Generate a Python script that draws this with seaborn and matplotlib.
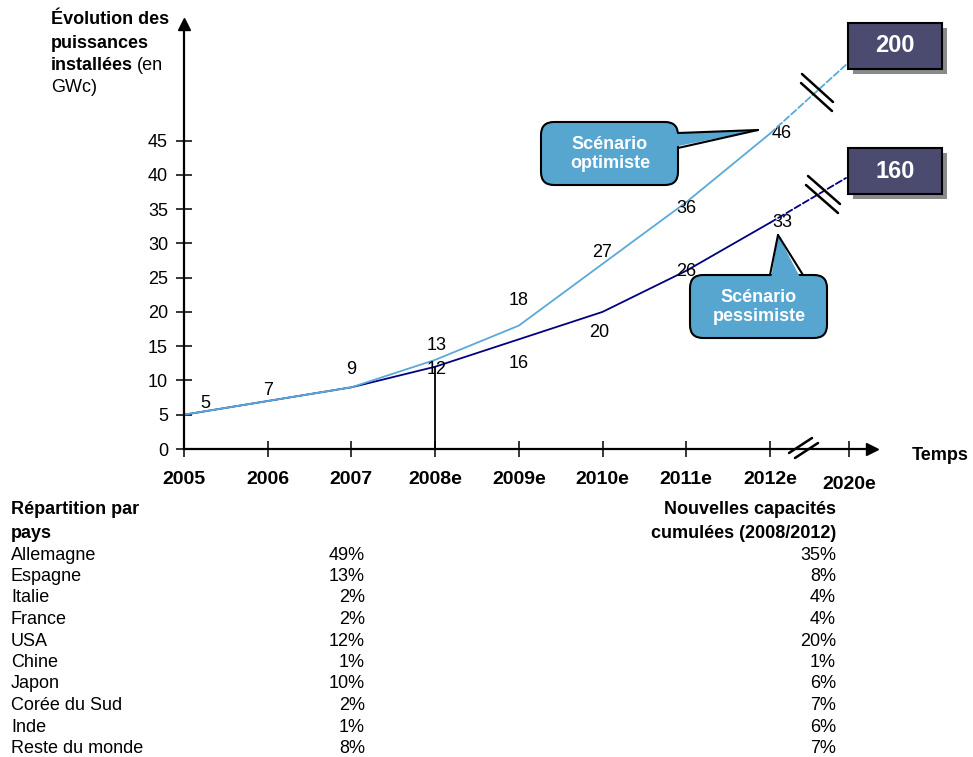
import matplotlib
matplotlib.use("Agg")
import matplotlib.pyplot as plt
import pandas as pd
import seaborn as sns
from matplotlib.transforms import Affine2D, ScaledTranslation
from matplotlib.patches import FancyBboxPatch, Polygon, Rectangle
from matplotlib.lines import Line2D

# ---- data -------------------------------------------------------------
annees = ["2005", "2006", "2007", "2008e", "2009e", "2010e", "2011e", "2012e", "2020e"]
optimiste = [5, 7, 9, 13, 18, 27, 36, 46]
pessimiste = [5, 7, 9, 12, 16, 20, 26, 33]
objectifs_2020 = [200, 160]          # optimiste, pessimiste
graduations_y = [0, 5, 10, 15, 20, 25, 30, 35, 40, 45]

pays = ["Allemagne", "Espagne", "Italie", "France", "USA", "Chine",
        "Japon", "Corée du Sud", "Inde", "Reste du monde"]
repartition = [49, 13, 2, 2, 12, 1, 10, 2, 1, 8]
nouvelles_capacites = [35, 8, 4, 4, 20, 1, 6, 7, 6, 7]

# ---- style ------------------------------------------------------------
W, H = 973, 757
BLEU_CLAIR = "#5AA9D8"
MARINE = "#000080"
BULLE = "#56A6D0"
CADRE = "#4B4B70"

sns.set_theme(style="white")
plt.rcParams["font.family"] = ["Liberation Sans", "DejaVu Sans"]
plt.rcParams["text.color"] = "black"
plt.rcParams["axes.labelcolor"] = "black"
plt.rcParams["xtick.color"] = "black"
plt.rcParams["ytick.color"] = "black"

fig = plt.figure(figsize=(W / 100, H / 100), dpi=100)
px = Affine2D().scale(1, -1).translate(0, H)   # pixel coords, origin top-left

# x axis: one unit per year up to 2012e, 2020e placed after the break
PAS = 83.7
X0 = 184
ax = fig.add_axes([X0 / W, 1 - 449 / H, (872 - X0) / W, (449 - 24) / H])

df = pd.DataFrame({
    "annee": list(range(len(optimiste))) * 2,
    "valeur": pessimiste + optimiste,
    "scenario": ["pessimiste"] * len(pessimiste) + ["optimiste"] * len(optimiste),
})
sns.lineplot(data=df, x="annee", y="valeur", hue="scenario",
             hue_order=["pessimiste", "optimiste"],
             palette={"optimiste": BLEU_CLAIR, "pessimiste": MARINE},
             linewidth=1.3, legend=False, ax=ax)

ax.set_xlim(0, (872 - X0) / PAS)
ax.set_ylim(0, 62)
ax.set_xticks(list(range(len(annees) - 1)) + [(849 - X0) / PAS])
ax.set_xticklabels(annees, fontsize=14, fontweight="bold")
ax.set_yticks(graduations_y)
ax.set_yticklabels([str(v) for v in graduations_y], fontsize=13)
ax.set_xlabel("")
ax.set_ylabel("")
for s in ("top", "right"):
    ax.spines[s].set_visible(False)
for s in ("left", "bottom"):
    ax.spines[s].set_color("black")
    ax.spines[s].set_linewidth(1.6)
ax.tick_params(axis="both", which="major", bottom=True, left=True,
               direction="inout", length=11, width=1.1, colors="black")
ax.tick_params(axis="x", pad=10)
ax.tick_params(axis="y", pad=6)
last = ax.get_xticklabels()[-1]
last.set_transform(last.get_transform() + ScaledTranslation(0, -5 / 100, fig.dpi_scale_trans))

# axis arrowheads
ax.plot(1, 0, ">", color="black", ms=9, transform=ax.transAxes, clip_on=False)
ax.plot(0, 1, "^", color="black", ms=9, transform=ax.transAxes, clip_on=False)

# 2008e marker line
ax.vlines(3, 0, pessimiste[3], color="black", lw=1.3)

# value labels (offsets in pixels, y downward)
dec_opt = [(21, -11), (0, -11), (0, -18), (2, -14), (0, -25), (0, -11), (0, 6), (12, 0)]
dec_pes = [None, None, None, (2, 3), (0, 24), (-3, 21), (0, 1), (12, 0)]
for i, v in enumerate(optimiste):
    dx, dy = dec_opt[i]
    ax.annotate(str(v), (i, v), xytext=(dx * 0.72, -dy * 0.72), textcoords="offset points",
                ha="center", va="center", fontsize=13, color="black")
for i, v in enumerate(pessimiste):
    if dec_pes[i] is None:
        continue
    dx, dy = dec_pes[i]
    ax.annotate(str(v), (i, v), xytext=(dx * 0.72, -dy * 0.72), textcoords="offset points",
                ha="center", va="center", fontsize=13, color="black")

# dashed extensions to the 2020 targets
ax.annotate("", xy=(848, 63), xycoords=px, xytext=(7, optimiste[-1]), textcoords="data",
            arrowprops=dict(arrowstyle="-", ls="--", color=BLEU_CLAIR, lw=1.3,
                            shrinkA=0, shrinkB=0))
ax.annotate("", xy=(846, 178), xycoords=px, xytext=(7, pessimiste[-1]), textcoords="data",
            arrowprops=dict(arrowstyle="-", ls="--", color=MARINE, lw=1.3,
                            shrinkA=0, shrinkB=0))

# break marks
def seg(x0, y0, x1, y1, lw=1.8):
    fig.add_artist(Line2D([x0, x1], [y0, y1], color="black", lw=lw, transform=px))

seg(802, 74, 833, 102)
seg(801, 83, 832, 111)
seg(808, 176, 840, 204)
seg(806, 185, 838, 213)
seg(789, 453, 812, 438)
seg(795, 458, 818, 443)

# 2020 target boxes
for valeur, (x0, y0) in zip(objectifs_2020, [(848, 23), (848, 148)]):
    fig.add_artist(Rectangle((x0 + 5, y0 + 5), 94, 46, facecolor="#8A8A8A",
                             edgecolor="none", transform=px))
    fig.add_artist(Rectangle((x0, y0), 94, 46, facecolor=CADRE,
                             edgecolor="black", lw=1.5, transform=px))
    fig.text(x0 + 47, y0 + 23, str(valeur), transform=px, ha="center", va="center",
             color="white", fontsize=17, fontweight="bold")

# scenario callouts
def bulle(x0, y0, w, h, couvre, cotes, texte, cx, cy):
    fig.add_artist(FancyBboxPatch((x0, y0), w, h,
                                  boxstyle="round,pad=0,rounding_size=13",
                                  facecolor=BULLE, edgecolor="black", lw=1.5,
                                  transform=px))
    fig.add_artist(Polygon(couvre, closed=True, facecolor=BULLE, edgecolor="none",
                           transform=px))
    for (a, b) in cotes:
        seg(a[0], a[1], b[0], b[1], lw=1.5)
    fig.text(cx, cy, texte, transform=px, ha="center", va="center", color="white",
             fontsize=13, fontweight="bold", linespacing=1.15)

bulle(541, 122, 137, 63,
      [(671, 133.5), (758, 130), (671, 147.5)],
      [((678, 133), (758, 130)), ((678, 148), (758, 130))],
      "Scénario\noptimiste", 610, 154)
bulle(690, 275, 137, 63,
      [(770.5, 282), (778, 235), (802.5, 282)],
      [((770, 275), (778, 235)), ((803, 275), (778, 235))],
      "Scénario\npessimiste", 759, 307)

# axis titles
fig.text(51, 20, "Évolution des", transform=px, ha="left", va="center",
         fontsize=13, fontweight="bold")
fig.text(51, 43, "puissances", transform=px, ha="left", va="center",
         fontsize=13, fontweight="bold")
fig.text(51, 66, "installées", transform=px, ha="left", va="center",
         fontsize=13, fontweight="bold")
fig.text(137, 66, "(en", transform=px, ha="left", va="center", fontsize=13)
fig.text(51, 88, "GWc)", transform=px, ha="left", va="center", fontsize=13)
fig.text(912, 455, "Temps", transform=px, ha="left", va="center",
         fontsize=13, fontweight="bold")

# country breakdown table
fig.text(11, 510, "Répartition par", transform=px, ha="left", va="center",
         fontsize=13, fontweight="bold")
fig.text(11, 533, "pays", transform=px, ha="left", va="center",
         fontsize=13, fontweight="bold")
fig.text(836, 510, "Nouvelles capacités", transform=px, ha="right", va="center",
         fontsize=13, fontweight="bold")
fig.text(836, 533, "cumulées (2008/2012)", transform=px, ha="right", va="center",
         fontsize=13, fontweight="bold")
for k, (p, r, n) in enumerate(zip(pays, repartition, nouvelles_capacites)):
    y = 555 + k * 21.5
    fig.text(11, y, p, transform=px, ha="left", va="center", fontsize=13)
    fig.text(365, y, f"{r}%", transform=px, ha="right", va="center", fontsize=13)
    fig.text(836, y, f"{n}%", transform=px, ha="right", va="center", fontsize=13)

fig.savefig("out.png", dpi=100, facecolor="white")
